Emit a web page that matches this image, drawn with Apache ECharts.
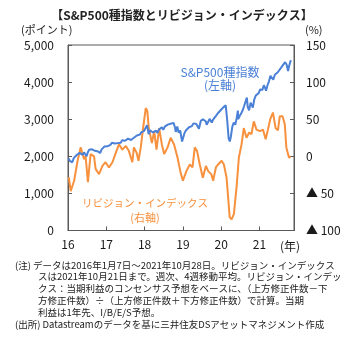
<!DOCTYPE html>
<html><head><meta charset="utf-8">
<script src="https://cdn.jsdelivr.net/npm/echarts@6/dist/echarts.min.js"></script>
<style>html,body{margin:0;padding:0;background:#fff}#c{width:354px;height:338px}</style>
</head><body><div id="c"></div>
<script>
// S&P500 (left axis), approximate weekly/biweekly closes
const spDates = ["2016-01-07","2016-01-21","2016-02-11","2016-02-25","2016-03-10","2016-03-24","2016-04-07","2016-04-21","2016-05-05","2016-05-19","2016-06-02","2016-06-16","2016-06-27","2016-07-07","2016-07-21","2016-08-04","2016-08-18","2016-09-01","2016-09-15","2016-09-29","2016-10-13","2016-10-27","2016-11-03","2016-11-17","2016-12-01","2016-12-15","2016-12-29",
"2017-01-12","2017-01-26","2017-02-09","2017-02-23","2017-03-09","2017-03-23","2017-04-06","2017-04-20","2017-05-04","2017-05-18","2017-06-01","2017-06-15","2017-06-29","2017-07-13","2017-07-27","2017-08-10","2017-08-24","2017-09-07","2017-09-21","2017-10-05","2017-10-19","2017-11-02","2017-11-16","2017-11-30","2017-12-14","2017-12-28",
"2018-01-11","2018-01-25","2018-02-08","2018-02-22","2018-03-08","2018-03-22","2018-04-05","2018-04-19","2018-05-03","2018-05-17","2018-05-31","2018-06-14","2018-06-28","2018-07-12","2018-07-26","2018-08-09","2018-08-23","2018-09-06","2018-09-20","2018-10-04","2018-10-18","2018-10-25","2018-11-08","2018-11-22","2018-12-06","2018-12-20","2018-12-24",
"2019-01-03","2019-01-17","2019-01-31","2019-02-14","2019-02-28","2019-03-14","2019-03-28","2019-04-11","2019-04-25","2019-05-09","2019-05-23","2019-06-03","2019-06-20","2019-07-11","2019-07-25","2019-08-08","2019-08-15","2019-08-29","2019-09-12","2019-09-26","2019-10-03","2019-10-17","2019-10-31","2019-11-14","2019-11-28","2019-12-12","2019-12-26",
"2020-01-09","2020-01-23","2020-01-30","2020-02-13","2020-02-19","2020-02-27","2020-03-12","2020-03-23","2020-04-02","2020-04-16","2020-04-30","2020-05-14","2020-05-28","2020-06-08","2020-06-11","2020-06-25","2020-07-09","2020-07-23","2020-08-06","2020-08-20","2020-09-02","2020-09-10","2020-09-23","2020-10-08","2020-10-22","2020-10-29","2020-11-12","2020-11-26","2020-12-10","2020-12-24",
"2021-01-07","2021-01-21","2021-01-28","2021-02-11","2021-02-25","2021-03-04","2021-03-18","2021-04-01","2021-04-15","2021-04-29","2021-05-12","2021-05-27","2021-06-10","2021-06-24","2021-07-08","2021-07-22","2021-08-05","2021-08-19","2021-09-02","2021-09-16","2021-09-30","2021-10-07","2021-10-14","2021-10-21","2021-10-28"];
const spValues = [1943,1869,1840,1951,1989,2035,2041,2091,2051,2040,2105,2071,2000,2098,2175,2164,2187,2170,2147,2171,2132,2133,2088,2187,2191,2262,2249,
2270,2296,2307,2364,2365,2345,2357,2355,2389,2365,2430,2432,2419,2447,2475,2438,2439,2465,2500,2552,2562,2579,2585,2647,2652,2687,
2767,2839,2600,2703,2738,2643,2662,2693,2630,2720,2705,2782,2716,2798,2837,2853,2856,2878,2930,2901,2768,2658,2806,2633,2695,2467,2400,
2448,2636,2704,2746,2784,2808,2815,2888,2926,2870,2822,2744,2954,2999,3003,2938,2848,2924,3009,2977,2910,2997,3037,3097,3154,3168,3240,
3275,3325,3283,3373,3340,2978,2481,2400,2527,2799,2912,2852,3029,3232,3002,3083,3152,3235,3349,3385,3580,3339,3237,3446,3453,3310,3537,3638,3668,3703,
3803,3853,3787,3916,3829,3768,3915,4020,4170,4211,4063,4200,4239,4266,4320,4367,4429,4405,4537,4473,4300,4399,4438,4549,4590];

// Revision index (right axis, %), time in decimal years
const revT = [2016.02,2016.07,2016.16,2016.25,2016.33,2016.42,2016.46,2016.52,2016.59,2016.68,2016.72,2016.81,2016.90,2016.98,2017.07,2017.16,2017.25,2017.33,2017.42,2017.51,2017.59,2017.68,2017.72,2017.79,2017.84,2017.90,2017.96,2018.03,2018.07,2018.11,2018.19,2018.25,2018.31,2018.38,2018.45,2018.51,2018.60,2018.68,2018.77,2018.86,2018.94,2019.00,2019.09,2019.18,2019.25,2019.31,2019.37,2019.44,2019.52,2019.60,2019.66,2019.74,2019.79,2019.86,2019.92,2020.01,2020.07,2020.14,2020.18,2020.22,2020.27,2020.33,2020.40,2020.46,2020.53,2020.59,2020.66,2020.73,2020.79,2020.85,2020.92,2021.01,2021.09,2021.16,2021.22,2021.28,2021.35,2021.42,2021.48,2021.53,2021.60,2021.66,2021.70,2021.77,2021.81];
const revValues = [-28,-47,-33,-6,12,-4,0,-35,3,0,-17,-24,-13,-8,-15,-8,5,16,9,14,7,-8,12,5,-6,12,38,65,61,38,18,34,9,38,16,3,12,25,16,-2,-22,-33,-20,-11,-15,12,7,-11,-29,-13,-20,-24,-33,-15,-11,-6,-11,-29,-55,-82,-85,-78,-42,-2,16,38,25,32,30,47,36,34,36,23,36,50,59,38,35,54,54,43,12,-2,0];

const xTicks = ["16","17","18","19","20","21"];
const leftTicks = ["0","1,000","2,000","3,000","4,000","5,000"];

function decYear(s){const d=new Date(s+"T00:00:00Z");const y=d.getUTCFullYear();const a=Date.UTC(y,0,1),b=Date.UTC(y+1,0,1);return y+(d.getTime()-a)/(b-a);}
const spData = spDates.map((d,i)=>[decYear(d),spValues[i]]);
const revData = revT.map((t,i)=>[t,revValues[i]]);

const FONT = '"Noto Sans CJK JP","Noto Sans",sans-serif';
const BLUE = '#4a80d6', ORANGE = '#f7913d', AX = '#595959', TXT = '#1a1a1a';

const chart = echarts.init(document.getElementById('c'));
const notes = [
 ["(注) データは2016年1月7日～2021年10月28日。リビジョン・インデックス",15],
 ["スは2021年10月21日まで。週次、4週移動平均。リビジョン・インデッ",38],
 ["クス：当期利益のコンセンサス予想をベースに、（上方修正件数－下",38],
 ["方修正件数）÷（上方修正件数＋下方修正件数）で計算。当期",38],
 ["利益は1年先、I/B/E/S予想。",38],
 ["(出所) Datastreamのデータを基に三井住友DSアセットマネジメント作成",15]
];
const graphics = [
 {type:'text',x:182,y:15,style:{text:'【S&P500種指数とリビジョン・インデックス】',font:'bold 12px '+FONT,fill:'#222',align:'center',verticalAlign:'middle'}},
 {type:'text',left:21,top:24,style:{text:'(ポイント)',font:'11px '+FONT,fill:TXT}},
 {type:'text',left:305,top:24,style:{text:'(%)',font:'11px '+FONT,fill:TXT}},
 {type:'text',left:280,top:240,style:{text:'(年)',font:'12px '+FONT,fill:TXT}},
 {type:'text',x:220,y:72,style:{text:'S&P500種指数',font:'12px '+FONT,fill:BLUE,align:'center',verticalAlign:'middle'}},
 {type:'text',x:220,y:85,style:{text:'(左軸)',font:'12px '+FONT,fill:BLUE,align:'center',verticalAlign:'middle'}},
 {type:'text',x:145,y:203,style:{text:'リビジョン・インデックス',font:'10.5px '+FONT,fill:ORANGE,align:'center',verticalAlign:'middle'}},
 {type:'text',x:145,y:218,style:{text:'(右軸)',font:'11px '+FONT,fill:ORANGE,align:'center',verticalAlign:'middle'}}
];
notes.forEach((n,i)=>graphics.push({type:'text',x:n[1],y:265+i*11.8,style:{text:n[0],font:'9.5px '+FONT,fill:TXT,verticalAlign:'middle'}}));

chart.setOption({
 animation:false,
 grid:{left:68,right:60,top:45,bottom:107.5,show:true,borderColor:AX,borderWidth:1},
 xAxis:{type:'value',min:2016,max:2021.9,interval:1,
   axisLine:{lineStyle:{color:AX}},axisTick:{inside:true,length:4,lineStyle:{color:AX}},
   splitLine:{show:false},
   axisLabel:{color:TXT,fontSize:12,fontFamily:FONT,margin:8,showMaxLabel:false,
     formatter:v=>{const i=Math.round(v)-2016;return Math.abs(v-Math.round(v))<1e-6&&i>=0&&i<xTicks.length?xTicks[i]:'';}}},
 yAxis:[
  {type:'value',min:0,max:5000,interval:1000,position:'left',
   axisLine:{show:true,lineStyle:{color:AX}},axisTick:{show:true,inside:true,length:4,lineStyle:{color:AX}},
   splitLine:{show:false},
   axisLabel:{color:TXT,fontSize:12,fontFamily:FONT,margin:14,formatter:v=>leftTicks[Math.round(v/1000)]}},
  {type:'value',min:-100,max:150,interval:50,position:'right',
   axisLine:{show:true,lineStyle:{color:AX}},axisTick:{show:true,inside:true,length:4,lineStyle:{color:AX}},
   splitLine:{show:false},
   axisLabel:{color:TXT,fontSize:12,fontFamily:FONT,margin:12,formatter:v=>v<0?'▲ '+(-v):String(v)}}
 ],
 series:[
  {type:'line',data:spData,yAxisIndex:0,showSymbol:false,lineStyle:{color:BLUE,width:2},z:3},
  {type:'line',data:revData,yAxisIndex:1,showSymbol:false,lineStyle:{color:ORANGE,width:2},z:2}
 ],
 graphic:graphics
});
</script></body></html>
